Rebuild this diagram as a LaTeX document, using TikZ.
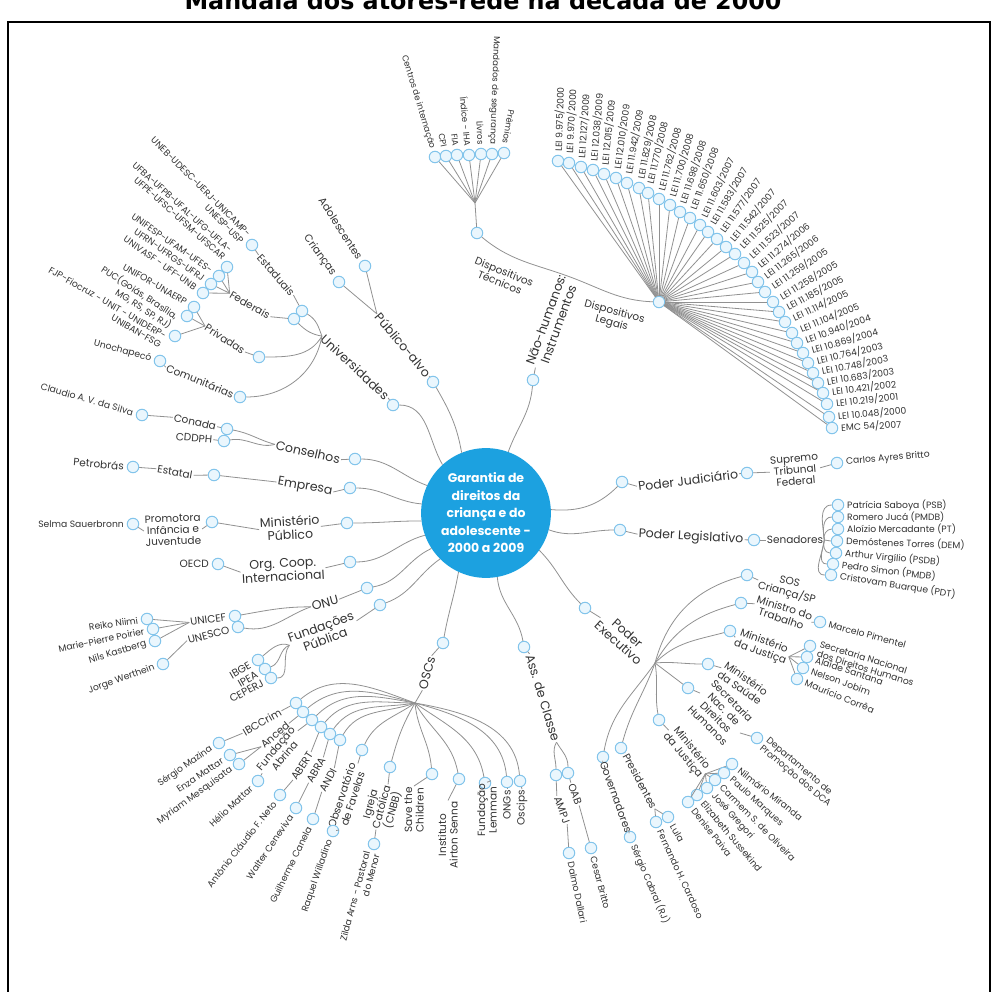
\documentclass[tikz,border=0pt]{standalone}
\usepackage{fontspec}
\setmainfont{Poppins}
\newfontfamily\headfont{DejaVu Sans}
\usetikzlibrary{positioning}
\usetikzlibrary{calc}
\definecolor{hubblue}{RGB}{28,161,224}
\definecolor{dotline}{RGB}{130,196,235}
\definecolor{dotfill}{RGB}{234,246,253}
\definecolor{wire}{RGB}{145,145,145}
\definecolor{ink}{RGB}{50,50,50}

\begin{document}
\begin{tikzpicture}[x=1pt, y=1pt,
        dot/.style={circle, draw=dotline, fill=dotfill, line width=1pt, minimum size=11.5pt, inner sep=0pt},
        branch/.style={text=ink, font=\fontsize{12.5}{13.5}\selectfont, align=center, inner sep=1pt},
        twig/.style={text=ink, font=\fontsize{10.5}{11.5}\selectfont, align=center, inner sep=1pt},
        leaf/.style={text=ink, font=\fontsize{9.2}{10}\selectfont, inner sep=1pt},
        link/.style={draw=wire, line width=0.8pt}]
\useasboundingbox (0,0) rectangle (992,-992);
\clip (0,0) rectangle (992,-992);
\draw[line width=1.5pt] (8,-22) rectangle (990,-1010);
\node[font=\headfont\bfseries\fontsize{23.8}{26}\selectfont, anchor=base] (title) at (483,-9.5) {Mandala dos atores-rede na década de 2000};

\node[circle, fill=hubblue, minimum size=124pt, text=white, align=center,
      font=\bfseries\fontsize{12.5}{17.5}\selectfont] (hub) at (486,-513)
      {Garantia de\\direitos da\\criança e do\\adolescente -\\2000 a 2009};

\node[dot] (nh) at (533,-380) {};
\node[branch, rotate=70] (nhl) at (552,-322) {Não-humanos:\\Instrumentos};
\node[dot] (dt) at (477,-233) {};
\node[twig, rotate=-22] (dtl) at (502,-277) {Dispositivos\\Técnicos};
\node[dot] (dl) at (659,-302) {};
\node[twig, rotate=-15] (dll) at (613,-318) {Dispositivos\\Legais};
\coordinate (dtfan) at (475,-203);
\draw[link] (hub.70) to[out=70,in=-95] (nh);
\draw[link] (nh) -- (nhl.west);
\draw[link] (dt) to[out=-40,in=160] (nhl.east) to[out=-20,in=178] (dl);
\draw[link] (dt) -- (dtfan);

\foreach \x/\y/\r/\t [count=\i] in {435/157/-73/Centros de internação, 446/156/-78/CPI, 457/155/-82/FIA,
        469/155/-85/Índice - IHA, 481/154/-88/Livros, 492/154/-92/Mandados de segurança, 504/153/-100/Prêmios}{
  \node[dot] (tec\i) at (\x,-\y) {};
  \node[leaf, font=\fontsize{8.6}{9.5}\selectfont, rotate=\r, anchor=east] at ($(tec\i)+({\r+180}:8)$) {\t};
  \draw[link] (dtfan) -- (tec\i);
}

\foreach \x/\y/\r/\t [count=\i] in {558/161/88/{LEI 9.975/2000}, 569/163/87/{LEI 9.970/2000},
        581/167/86/{LEI 12.127/2009}, 593/170/85/{LEI 12.038/2009}, 604/174/84/{LEI 12.015/2009},
        616/178/82/{LEI 12.010/2009}, 627/183/80/{LEI 11.942/2009}, 639/188/79/{LEI 11.829/2008},
        648/193/77/{LEI 11.770/2008}, 659/199/75/{LEI 11.762/2008}, 670/205/74/{LEI 11.700/2008},
        680/212/72/{LEI 11.698/2008}, 690/218/70/{LEI 11.650/2008}, 700/225/65/{LEI 11.603/2007},
        708/232/60/{LEI 11.583/2007}, 717/239/55/{LEI 11.577/2007}, 726/247/50/{LEI 11.542/2007},
        735/254/46/{LEI 11.525/2007}, 744/263/43/{LEI 11.523/2007}, 752/272/40/{LEI 11.274/2006},
        758/282/37/{LEI 11.265/2006}, 765/292/34/{LEI 11.259/2005}, 773/302/31/{LEI 11.258/2005},
        779/312/28/{LEI 11.185/2005}, 785/322/25/{LEI 11.114/2005}, 792/333/22/{LEI 11.104/2005},
        797/343/19/{LEI 10.940/2004}, 803/353/16/{LEI 10.869/2004}, 808/363/13/{LEI 10.764/2003},
        813/373/11/{LEI 10.748/2003}, 818/383/9/{LEI 10.683/2003}, 823/393/7/{LEI 10.421/2002},
        827/404/6/{LEI 10.219/2001}, 829/417/5/{LEI 10.048/2000}, 832/428/3/{EMC 54/2007}}{
  \node[dot] (law\i) at (\x,-\y) {};
  \node[leaf, rotate=\r, anchor=west] at ($(law\i)+(\r:8)$) {\t};
  \draw[link] (dl) -- (law\i);
}

\node[dot] (pa) at (433,-382) {};
\node[branch, rotate=-50] (pal) at (403,-345) {Público-alvo};
\node[dot] (cri) at (339,-282) {};
\node[dot] (ado) at (365,-266) {};
\node[twig, rotate=-54, anchor=east] at ($(cri)+(126:8)$) {Crianças};
\node[twig, rotate=-57, anchor=east] at ($(ado)+(123:8)$) {Adolescentes};
\draw[link] (hub.112) to[out=100,in=-60] (pa);
\draw[link] (pa) -- (pal.east);
\draw[link] (pal.west) -- (cri);
\draw[link] (pal.west) -- (ado);

\node[dot] (uni) at (393,-405) {};
\node[branch, rotate=-43] (unil) at (355,-367) {Universidades};
\node[dot] (est) at (302,-311) {};
\node[dot] (fed) at (294,-319) {};
\node[dot] (pri) at (259,-357) {};
\node[dot] (com) at (240,-397) {};
\draw[link] (hub.132) to[out=120,in=0] (uni);
\draw[link] (uni) -- (unil.east);
\draw[link] (unil.west) to[out=110,in=-30] (est);
\draw[link] (unil.west) to[out=170,in=-45] (fed);
\draw[link] (unil.west) to[out=-120,in=0] (pri);
\draw[link] (unil.west) to[out=-100,in=0] (com);
\node[twig, rotate=-49] (estl) at (276,-275) {Estaduais};
\node[dot] (ueb) at (252,-245) {};
\draw[link] (est) -- (estl.east);
\draw[link] (estl.west) -- (ueb);
\node[leaf, rotate=-45, anchor=east, align=right] at ($(ueb)+(135:8)$) {UNEB-UDESC-UERJ-UNICAMP-\\UNESP-USP};
\node[twig, rotate=-30] (fedl) at (250,-305) {Federais};
\draw[link] (fed) -- (fedl.east);
\node[dot] (fa) at (227,-267) {};
\node[dot] (fb) at (219,-276) {};
\node[dot] (fc) at (211,-284) {};
\node[dot] (fd) at (203,-293) {};
\foreach \f in {fa,fb,fc,fd} \draw[link] (fedl.west) -- (\f);
\node[leaf, rotate=-42, anchor=south east, align=right] at ($(fa)+(138:7)$) {UFBA-UFPB-UFAL-UFG-UFLA-\\UFPE-UFSC-UFSM-UFSCAR};
\node[leaf, rotate=-35, anchor=east] at ($(fb)+(145:8)$) {UNIFESP-UFAM-UFES-};
\node[leaf, rotate=-35, anchor=east] at ($(fc)+(145:8)$) {UFRN-UFRGS-UFRJ};
\node[leaf, rotate=-35, anchor=east] at ($(fd)+(145:8)$) {UNIVASF - UFF-UNB};
\node[twig, rotate=-33] (pril) at (225,-339) {Privadas};
\draw[link] (pri) -- (pril.east);
\node[dot] (pua) at (194,-307) {};
\node[dot] (pub) at (187,-316) {};
\node[dot] (puc) at (175,-336) {};
\foreach \p in {pua,pub,puc} \draw[link] (pril.west) -- (\p);
\node[leaf, rotate=-30, anchor=east] at ($(pua)+(150:8)$) {UNIFOR-UNAERP};
\node[leaf, rotate=-33, anchor=north east, align=right] at ($(pub)+(147:7)$) {PUC(Goiás, Brasília,\\MG, RS, SP, RJ)};
\node[leaf, rotate=-30, anchor=north east, align=right] at ($(puc)+(150:7)$) {FJP-Fiocruz - UNIT - UNIDERP-\\UNIBAN-FSG};
\node[twig, rotate=-22] (coml) at (200,-381) {Comunitárias};
\node[dot] (uno) at (160,-361) {};
\draw[link] (com) -- (coml.east);
\draw[link] (coml.west) -- (uno);
\node[leaf, rotate=-15, anchor=east] at ($(uno)+(165:8)$) {Unochapecó};

\node[dot] (cons) at (355,-459) {};
\node[branch, rotate=-13] (consl) at (308,-452) {Conselhos};
\draw[link] (hub.155) to[out=160,in=0] (cons);
\draw[link] (cons) -- (consl.east);
\node[dot] (cnd) at (227,-429) {};
\node[dot] (cdd) at (224,-441) {};
\draw[link] (consl.west) to[out=165,in=-10] (cnd);
\draw[link] (consl.west) to[out=195,in=10] (cdd);
\node[twig, rotate=-12] (cndl) at (195,-422) {Conada};
\node[twig, rotate=-5] (cddl) at (194,-438) {CDDPH};
\draw[link] (cnd) -- (cndl.east);
\draw[link] (cdd) -- (cddl.east);
\node[dot] (cla) at (142,-415) {};
\draw[link] (cndl.west) -- (cla);
\node[leaf, rotate=-16, anchor=east] at ($(cla)+(164:8)$) {Claudio A. V. da Silva};

\node[dot] (emp) at (350,-488) {};
\node[branch, rotate=-10] (empl) at (305,-487) {Empresa};
\draw[link] (hub.172) to[out=175,in=0] (emp);
\draw[link] (emp) -- (empl.east);
\node[dot] (sta) at (214,-475) {};
\draw[link] (empl.west) -- (sta);
\node[twig, rotate=-10] (stal) at (175,-472) {Estatal};
\draw[link] (sta) -- (stal.east);
\node[dot] (pet) at (133,-467) {};
\draw[link] (stal.west) -- (pet);
\node[twig, rotate=-5, anchor=east] at ($(pet)+(175:8)$) {Petrobrás};

\node[dot] (mp) at (347,-523) {};
\node[branch, rotate=3] (mpl) at (290,-528) {Ministério\\Público};
\draw[link] (hub.187) to[out=180,in=0] (mp);
\draw[link] (mp) -- (mpl.east);
\node[dot] (pro) at (212,-522) {};
\draw[link] (mpl.west) -- (pro);
\node[twig, rotate=2] (prol) at (173,-530) {Promotora\\Infância e\\Juventude};
\draw[link] (pro) -- (prol.east);
\node[dot] (sel) at (133,-524) {};
\draw[link] (prol.west) -- (sel);
\node[leaf, anchor=east] at ($(sel)+(180:8)$) {Selma Sauerbronn};

\node[dot] (org) at (350,-562) {};
\node[branch, rotate=3] (orgl) at (283,-570) {Org. Coop.\\Internacional};
\draw[link] (hub.200) to[out=195,in=0] (org);
\draw[link] (org) -- (orgl.east);
\node[dot] (oec) at (218,-564) {};
\draw[link] (orgl.west) -- (oec);
\node[twig, anchor=east] at ($(oec)+(180:8)$) {OECD};

\node[dot] (onu) at (367,-588) {};
\node[branch, rotate=15] (onul) at (325,-603) {ONU};
\draw[link] (hub.213) to[out=205,in=10] (onu);
\draw[link] (onu) -- (onul.east);
\node[dot] (unf) at (235,-616) {};
\node[dot] (uns) at (238,-627) {};
\draw[link] (onul.west) to[out=180,in=10] (unf);
\draw[link] (onul.west) to[out=200,in=-10] (uns);
\node[twig, rotate=8, anchor=east] (unfl) at ($(unf)+(188:8)$) {UNICEF};
\node[twig, rotate=15, anchor=east] (unsl) at ($(uns)+(195:8)$) {UNESCO};
\node[dot] (rei) at (147,-619) {};
\node[dot] (mar) at (153,-629) {};
\node[dot] (nil) at (155,-641) {};
\foreach \u in {rei,mar,nil} \draw[link] (unfl.west) -- (\u);
\node[leaf, rotate=8, anchor=east] at ($(rei)+(188:8)$) {Reiko Niimi};
\node[leaf, rotate=12, anchor=east] at ($(mar)+(192:8)$) {Marie-Pierre Poirier};
\node[leaf, rotate=17, anchor=east] at ($(nil)+(197:8)$) {Nils Kastberg};
\node[dot] (jor) at (163,-664) {};
\draw[link] (unsl.west) -- (jor);
\node[leaf, rotate=20, anchor=east] at ($(jor)+(200:8)$) {Jorge Werthein};

\node[dot] (fp) at (380,-605) {};
\node[branch, rotate=20] (fpl) at (323,-633) {Fundações\\Pública};
\draw[link] (hub.225) to[out=215,in=20] (fp);
\draw[link] (fp) -- (fpl.east);
\node[dot] (ibg) at (258,-660) {};
\node[dot] (ipe) at (265,-669) {};
\node[dot] (cep) at (271,-678) {};
\draw[link] (fpl.west) to[out=160,in=40] (ibg);
\draw[link] (fpl.west) to[out=200,in=20] (ipe);
\draw[link] (fpl.west) to[out=230,in=0] (cep);
\node[twig, rotate=30, anchor=east] at ($(ibg)+(210:8)$) {IBGE};
\node[twig, rotate=30, anchor=east] at ($(ipe)+(210:8)$) {IPEA};
\node[twig, rotate=28, anchor=east] at ($(cep)+(208:8)$) {CEPERJ};

\node[dot] (osc) at (443,-643) {};
\node[branch, rotate=75] (oscl) at (427,-673) {OSCs};
\coordinate (oh) at (415,-703);
\draw[link] (hub.245) to[out=260,in=80] (osc);
\draw[link] (osc) -- (oscl.east);
\draw[link] (oscl.west) -- (oh);
\node[dot] (ibc) at (296,-703) {};
\node[dot] (anc) at (303,-712) {};
\node[dot] (abn) at (312,-720) {};
\node[dot] (abe) at (321,-727) {};
\node[dot] (abr) at (330,-734) {};
\node[dot] (adi) at (340,-740) {};
\node[dot] (obs) at (362,-750) {};
\node[dot] (igr) at (390,-767) {};
\node[dot] (sav) at (432,-774) {};
\node[dot] (ins) at (459,-779) {};
\node[dot] (lem) at (485,-783) {};
\node[dot] (ong) at (507,-782) {};
\node[dot] (osp) at (520,-781) {};
\foreach \c/\o/\n in {ibc/160/40, anc/165/40, abn/170/45, abe/180/50, abr/190/55, adi/200/60, obs/215/65,
        igr/240/75, sav/275/95, ins/-60/100, lem/-35/100, ong/-15/95, osp/-10/95}
  \draw[link] (oh) to[out=\o,in=\n] (\c);
\node[twig, rotate=30] (ibcl) at (262,-722) {IBCCrim};
\node[twig, rotate=40] (ancl) at (275,-735) {Anced};
\node[twig, rotate=50] (abnl) at (280,-752) {Fundação\\Abrina};
\node[twig, rotate=57] (abel) at (302,-766) {ABERT};
\node[twig, rotate=60] (abrl) at (316,-770) {ABRA};
\node[twig, rotate=62] (adil) at (328,-780) {ANDI};
\node[twig, rotate=72] (obsl) at (347,-797) {Observatório\\de Favelas};
\node[twig, rotate=75] (igrl) at (382,-807) {Igreja\\Católica\\(CNBB)};
\node[twig, rotate=90] (savl) at (414,-810) {Save the\\Children};
\node[twig, rotate=90] (insl) at (448,-835) {Instituto\\Airton Senna};
\node[twig, rotate=90] (leml) at (487,-810) {Fundação\\Lemman};
\node[twig, rotate=90] (ongl) at (507,-805) {ONGs};
\node[twig, rotate=90] (ospl) at (522,-808) {Oscips};
\foreach \c in {ibc,anc,abn,abe,abr,adi,obs,igr,sav,ins,lem,ong,osp}
  \draw[link] (\c) -- (\c l.east);
\node[dot] (ser) at (219,-743) {};
\node[dot] (enz) at (230,-755) {};
\node[dot] (myr) at (239,-764) {};
\node[dot] (hel) at (258,-781) {};
\node[dot] (ant) at (280,-795) {};
\node[dot] (wal) at (296,-808) {};
\node[dot] (gui) at (313,-819) {};
\node[dot] (raq) at (333,-831) {};
\node[dot] (zil) at (374,-844) {};
\draw[link] (ibcl.west) -- (ser);
\draw[link] (ancl.west) -- (enz);
\draw[link] (ancl.west) -- (myr);
\draw[link] (abnl.west) -- (hel);
\draw[link] (abel.west) -- (ant);
\draw[link] (abrl.west) -- (wal);
\draw[link] (adil.west) -- (gui);
\draw[link] (obsl.west) -- (raq);
\draw[link] (igrl.west) -- (zil);
\node[leaf, rotate=35, anchor=east] at ($(ser)+(215:8)$) {Sérgio Mazina};
\node[leaf, rotate=34, anchor=east] at ($(enz)+(214:8)$) {Enza Mattar};
\node[leaf, rotate=36, anchor=east] at ($(myr)+(216:8)$) {Myriam Mesquisata};
\node[leaf, rotate=43, anchor=east] at ($(hel)+(223:8)$) {Hélio Mattar};
\node[leaf, rotate=52, anchor=east] at ($(ant)+(232:8)$) {Antônio Cláudio F. Neto};
\node[leaf, rotate=56, anchor=east] at ($(wal)+(236:8)$) {Walter Ceneviva};
\node[leaf, rotate=64, anchor=east] at ($(gui)+(244:8)$) {Guilherme Canela};
\node[leaf, rotate=71, anchor=east] at ($(raq)+(251:8)$) {Raquel Willadino};
\node[leaf, rotate=75, anchor=east, align=right] at ($(zil)+(255:8)$) {Zilda Arns - Pastoral\\do Menor};

\node[dot] (ass) at (524,-647) {};
\node[branch, rotate=-73] (assl) at (543,-698) {Ass. de Classe};
\draw[link] (hub.280) to[out=-85,in=100] (ass);
\draw[link] (ass) -- (assl.west);
\node[dot] (oab) at (568,-773) {};
\node[dot] (amp) at (556,-775) {};
\draw[link] (assl.east) to[out=-60,in=90] (oab);
\draw[link] (assl.east) to[out=-120,in=90] (amp);
\node[twig, rotate=-70] (oabl) at (575,-794) {OAB};
\node[twig, rotate=-70] (ampl) at (562,-810) {AMPJ};
\draw[link] (oab) -- (oabl.west);
\draw[link] (amp) -- (ampl.west);
\node[dot] (ces) at (591,-848) {};
\node[dot] (dal) at (569,-853) {};
\draw[link] (oabl.east) -- (ces);
\draw[link] (ampl.east) -- (dal);
\node[leaf, rotate=-75, anchor=west] at ($(ces)+(-75:8)$) {Cesar Britto};
\node[leaf, rotate=-78, anchor=west] at ($(dal)+(-78:8)$) {Dalmo Dallari};

\node[dot] (pe) at (585,-608) {};
\node[branch, rotate=-42] (pel) at (623,-638) {Poder\\Executivo};
\coordinate (eh) at (655,-663);
\draw[link] (hub.-35) to[out=-45,in=135] (pe);
\draw[link] (pe) -- (pel.west);
\node[dot] (sos) at (747,-575) {};
\node[dot] (mtr) at (741,-603) {};
\node[dot] (mja) at (730,-631) {};
\node[dot] (msa) at (708,-664) {};
\node[dot] (snd) at (688,-688) {};
\node[dot] (mjb) at (659,-720) {};
\node[dot] (pres) at (621,-748) {};
\node[dot] (gov) at (603,-757) {};
\draw[link] (eh) to[out=75,in=195] (sos);
\draw[link] (eh) to[out=60,in=195] (mtr);
\draw[link] (eh) to[out=45,in=195] (mja);
\draw[link] (eh) to[out=5,in=180] (msa);
\draw[link] (eh) -- (snd);
\draw[link] (eh) to[out=-80,in=100] (mjb);
\draw[link] (eh) to[out=-110,in=75] (pres);
\draw[link] (eh) to[out=-125,in=80] (gov);
\node[twig, rotate=-15] (sosl) at (788,-588) {SOS\\Criança/SP};
\node[twig, rotate=-18] (mtrl) at (783,-613) {Ministro do\\Trabalho};
\node[twig, rotate=-20] (mjal) at (762,-647) {Ministério\\da Justiça};
\node[twig, rotate=-35] (msal) at (743,-683) {Ministério\\da Saúde};
\node[twig, rotate=-45] (sndl) at (720,-713) {Secretaria\\Nac. de\\Direitos\\Humanos};
\node[twig, rotate=-50] (mjbl) at (687,-752) {Ministério\\da Justiça};
\node[twig, rotate=-62] (presl) at (640,-781) {Presidentes};
\node[twig, rotate=-70] (govl) at (616,-797) {Governadores};
\foreach \c in {sos,mtr,mja,msa,snd,mjb,pres,gov}
  \draw[link] (\c) -- (\c l.west);
\node[dot] (mce) at (820,-622) {};
\draw[link] (mtrl.east) -- (mce);
\node[leaf, rotate=-15, anchor=west] at ($(mce)+(-15:8)$) {Marcelo Pimentel};
\node[dot] (sa) at (810,-646) {};
\node[dot] (sb) at (807,-657) {};
\node[dot] (sc) at (803,-668) {};
\node[dot] (sd) at (797,-679) {};
\foreach \s in {sa,sb,sc,sd} \draw[link] (mjal.east) -- (\s);
\node[leaf, rotate=-17, anchor=west, align=left] at ($(sa)+(-17:8)$) {Secretaria Nacional\\dos Direitos Humanos};
\node[leaf, rotate=-18, anchor=west] at ($(sb)+(-18:8)$) {Alaíde Santana};
\node[leaf, rotate=-20, anchor=west] at ($(sc)+(-20:8)$) {Nelson Jobim};
\node[leaf, rotate=-22, anchor=west] at ($(sd)+(-22:8)$) {Maurício Corrêa};
\node[dot] (dep) at (757,-738) {};
\draw[link] (sndl.east) -- (dep);
\node[leaf, rotate=-40, anchor=west, align=left] at ($(dep)+(-40:8)$) {Departamento de\\Promoção dos DCA};
\foreach \x/\y/\r/\t [count=\i] in {732/764/-38/Nilmário Miranda, 724/773/-42/Paulo Marques,
        715/780/-45/Carmem S. de Oliveira, 707/788/-48/José Gregori, 697/795/-50/Elizabeth Sussekind,
        688/802/-52/Denise Paiva}{
  \node[dot] (mjn\i) at (\x,-\y) {};
  \draw[link] (mjbl.east) -- (mjn\i);
  \node[leaf, rotate=\r, anchor=west] at ($(mjn\i)+(\r:8)$) {\t};
}
\node[dot] (lul) at (668,-817) {};
\node[dot] (fhc) at (656,-822) {};
\draw[link] (presl.east) -- (lul);
\draw[link] (presl.east) -- (fhc);
\node[leaf, rotate=-60, anchor=west] at ($(lul)+(-60:8)$) {Lula};
\node[leaf, rotate=-65, anchor=west] at ($(fhc)+(-65:8)$) {Fernando H. Cardoso};
\node[dot] (cab) at (630,-837) {};
\draw[link] (govl.east) -- (cab);
\node[leaf, rotate=-67, anchor=west] at ($(cab)+(-67:8)$) {Sérgio Cabral (RJ)};

\node[dot] (pl) at (620,-530) {};
\node[branch, rotate=-3] (pll) at (691,-537) {Poder Legislativo};
\draw[link] (hub.-15) to[out=-20,in=180] (pl);
\draw[link] (pl) -- (pll.west);
\node[dot] (sen) at (754,-540) {};
\draw[link] (pll.east) -- (sen);
\node[twig] (senl) at (795,-540) {Senadores};
\draw[link] (sen) -- (senl.west);
\foreach \x/\y/\r/\o/\t [count=\i] in {838/505/0/95/Patrícia Saboya (PSB), 838/517/0/100/Romero Jucá (PMDB),
        838/529/0/110/Aloízio Mercadante (PT), 837/541/-2/0/Demóstenes Torres (DEM),
        836/553/-5/-110/Arthur Virgílio (PSDB), 833/564/-7/-100/Pedro Simon (PMDB),
        831/575/-9/-95/Cristovam Buarque (PDT)}{
  \node[dot] (sn\i) at (\x,-\y) {};
  \draw[link] (senl.east) to[out=\o,in=180] (sn\i);
  \node[leaf, rotate=\r, anchor=west] at ($(sn\i)+(\r:8)$) {\t};
}

\node[dot] (pj) at (622,-482) {};
\node[branch, rotate=7] (pjl) at (688,-480) {Poder Judiciário};
\draw[link] (hub.3) to[out=-5,in=225] (pj);
\draw[link] (pj) -- (pjl.west);
\node[dot] (stf) at (747,-473) {};
\draw[link] (pjl.east) -- (stf);
\node[twig, rotate=5] (stfl) at (795,-470) {Supremo\\Tribunal\\Federal};
\draw[link] (stf) -- (stfl.west);
\node[dot] (car) at (837,-463) {};
\draw[link] (stfl.east) -- (car);
\node[leaf, rotate=5, anchor=west] at ($(car)+(5:8)$) {Carlos Ayres Britto};
\end{tikzpicture}
\end{document}
